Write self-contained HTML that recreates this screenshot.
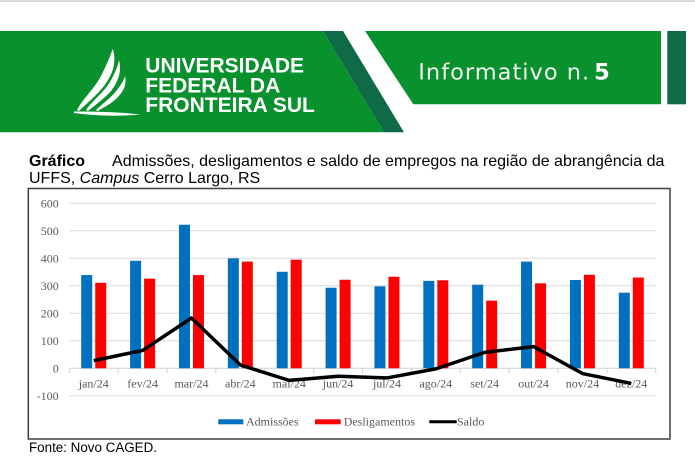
<!DOCTYPE html>
<html>
<head>
<meta charset="utf-8">
<style>
  html, body { margin:0; padding:0; background:#ffffff; }
  body { width:695px; height:470px; overflow:hidden; position:relative; }
  svg { position:absolute; left:0; top:0; }
  .title { position:absolute; left:29px; top:152.5px; width:650px; font-family:"Liberation Sans", Arial, sans-serif; font-size:16px; line-height:17.5px; color:#000; white-space:nowrap; }
  .fonte { position:absolute; left:29px; top:440px; font-family:"Liberation Sans", Arial, sans-serif; font-size:13.4px; line-height:16px; color:#000; }
</style>
</head>
<body>
<svg width="695" height="470" viewBox="0 0 695 470" xmlns="http://www.w3.org/2000/svg">
  <!-- header -->
  <rect x="0" y="0" width="695" height="2" fill="#d9d9d9"/>
  <polygon points="0,31 323,31 384,132.3 0,132.3" fill="#08912c"/>
  <polygon points="323,31 343,31 404,132.3 384,132.3" fill="#0e6a47"/>
  <polygon points="365,31 661,31 661,104.3 413.3,104.3" fill="#08912c"/>
  <rect x="667.3" y="31" width="18.7" height="73.3" fill="#0e6a47"/>
  <!-- logo flame -->
  <g fill="#ffffff">
    <path d="M77,110 C84,97 95,88 101,76 C106,66 110,57 112.7,49 C117,62 113,74 104,86 C96,96 87,103 79,111 Z"/>
    <path d="M86,110 C93,100 104,92 110,82 C115,73 118,66 119,60 C122,72 118,82 111,91 C104,99 95,105 88,111 Z"/>
    <path d="M96,110 C102,104 112,97 117,90 C121,85 124,80 125,76 C127,85 123,92 117,98 C111,104 104,107 98,111 Z"/>
    <path d="M74,111.5 Q108,111 141,114.5 Q106,117.5 74,113 Z"/>
  </g>
  <g font-family="Liberation Sans, Arial, sans-serif" font-weight="bold" font-size="21" fill="#ffffff">
    <text x="145.3" y="72.5">UNIVERSIDADE</text>
    <text x="145.3" y="92.5">FEDERAL DA</text>
    <text x="145.3" y="112">FRONTEIRA SUL</text>
  </g>
  <text x="418.3" y="79.3" font-family="DejaVu Sans, sans-serif" font-size="22.5" letter-spacing="1" fill="#eef3ee">Informativo n.<tspan font-weight="bold" fill="#ffffff" letter-spacing="0" dx="4">5</tspan></text>

  <!-- chart box -->
  <rect x="28.3" y="188.5" width="641.7" height="250.5" fill="#ffffff" stroke="#404040" stroke-width="1.5"/>

  <!-- gridlines -->
  <g stroke="#d9d9d9" stroke-width="1">
    <line x1="69.3" y1="203.3" x2="655.7" y2="203.3"/>
    <line x1="69.3" y1="230.8" x2="655.7" y2="230.8"/>
    <line x1="69.3" y1="258.3" x2="655.7" y2="258.3"/>
    <line x1="69.3" y1="285.8" x2="655.7" y2="285.8"/>
    <line x1="69.3" y1="313.3" x2="655.7" y2="313.3"/>
    <line x1="69.3" y1="340.8" x2="655.7" y2="340.8"/>
    <line x1="69.3" y1="395.8" x2="655.7" y2="395.8"/>
  </g>
  <g stroke="#d0d0d0" stroke-width="1">
    <line x1="69.3" y1="368.3" x2="655.7" y2="368.3"/>
    <line x1="69.3" y1="368.3" x2="69.3" y2="373"/>
    <line x1="118.17" y1="368.3" x2="118.17" y2="373"/>
    <line x1="167.04" y1="368.3" x2="167.04" y2="373"/>
    <line x1="215.91" y1="368.3" x2="215.91" y2="373"/>
    <line x1="264.78" y1="368.3" x2="264.78" y2="373"/>
    <line x1="313.65" y1="368.3" x2="313.65" y2="373"/>
    <line x1="362.52" y1="368.3" x2="362.52" y2="373"/>
    <line x1="411.39" y1="368.3" x2="411.39" y2="373"/>
    <line x1="460.26" y1="368.3" x2="460.26" y2="373"/>
    <line x1="509.13" y1="368.3" x2="509.13" y2="373"/>
    <line x1="558.0" y1="368.3" x2="558.0" y2="373"/>
    <line x1="606.87" y1="368.3" x2="606.87" y2="373"/>
    <line x1="655.74" y1="368.3" x2="655.74" y2="373"/>
  </g>

  <!-- y labels -->
  <g font-family="Liberation Serif, Times New Roman, serif" font-size="12" fill="#595959" text-anchor="end">
    <text x="58.7" y="207.5">600</text>
    <text x="58.7" y="235">500</text>
    <text x="58.7" y="262.5">400</text>
    <text x="58.7" y="290">300</text>
    <text x="58.7" y="317.5">200</text>
    <text x="58.7" y="345">100</text>
    <text x="58.7" y="372.5">0</text>
    <text x="58.7" y="400">-100</text>
  </g>

  <!-- bars: Admissões -->
  <g fill="#0070c0">
    <rect x="81.23" y="275.07" width="11" height="93.23"/>
    <rect x="130.10" y="260.77" width="11" height="107.53"/>
    <rect x="178.97" y="224.75" width="11" height="143.55"/>
    <rect x="227.84" y="258.3" width="11" height="110"/>
    <rect x="276.71" y="271.77" width="11" height="96.53"/>
    <rect x="325.58" y="287.72" width="11" height="80.58"/>
    <rect x="374.45" y="286.35" width="11" height="81.95"/>
    <rect x="423.32" y="280.85" width="11" height="87.45"/>
    <rect x="472.19" y="284.7" width="11" height="83.6"/>
    <rect x="521.06" y="261.6" width="11" height="106.7"/>
    <rect x="569.93" y="280.02" width="11" height="88.28"/>
    <rect x="618.80" y="292.67" width="11" height="75.63"/>
  </g>
  <!-- bars: Desligamentos -->
  <g fill="#ff0000">
    <rect x="95.23" y="282.77" width="11" height="85.53"/>
    <rect x="144.10" y="278.65" width="11" height="89.65"/>
    <rect x="192.97" y="275.07" width="11" height="93.23"/>
    <rect x="241.84" y="261.6" width="11" height="106.7"/>
    <rect x="290.71" y="259.67" width="11" height="108.63"/>
    <rect x="339.58" y="279.75" width="11" height="88.55"/>
    <rect x="388.45" y="276.72" width="11" height="91.58"/>
    <rect x="437.32" y="280.3" width="11" height="88"/>
    <rect x="486.19" y="300.65" width="11" height="67.65"/>
    <rect x="535.06" y="283.32" width="11" height="84.98"/>
    <rect x="583.93" y="274.8" width="11" height="93.5"/>
    <rect x="632.80" y="277.55" width="11" height="90.75"/>
  </g>

  <!-- x labels -->
  <g font-family="Liberation Serif, Times New Roman, serif" font-size="12" fill="#595959" text-anchor="middle">
    <text x="93.74" y="387.5">jan/24</text>
    <text x="142.61" y="387.5">fev/24</text>
    <text x="191.48" y="387.5">mar/24</text>
    <text x="240.35" y="387.5">abr/24</text>
    <text x="289.22" y="387.5">mai/24</text>
    <text x="338.09" y="387.5">jun/24</text>
    <text x="386.96" y="387.5">jul/24</text>
    <text x="435.83" y="387.5">ago/24</text>
    <text x="484.70" y="387.5">set/24</text>
    <text x="533.57" y="387.5">out/24</text>
    <text x="582.44" y="387.5">nov/24</text>
    <text x="631.31" y="387.5">dez/24</text>
  </g>

  <!-- saldo line -->
  <polyline fill="none" stroke="#000000" stroke-width="3.5" stroke-linejoin="round"
    points="93.74,360.6 142.61,350.43 191.48,317.98 240.35,365.0 289.22,380.4 338.09,376.28 386.96,377.93 435.83,368.85 484.70,352.35 533.57,346.58 582.44,373.53 631.31,383.43"/>

  <!-- legend -->
  <rect x="218.3" y="419.3" width="25" height="5" fill="#0070c0"/>
  <rect x="315" y="419.3" width="25.7" height="5" fill="#ff0000"/>
  <line x1="429.3" y1="421.8" x2="456.7" y2="421.8" stroke="#000" stroke-width="3"/>
  <g font-family="Liberation Serif, Times New Roman, serif" font-size="12" fill="#595959">
    <text x="246" y="425.5">Admissões</text>
    <text x="343.7" y="425.5">Desligamentos</text>
    <text x="457" y="425.5">Saldo</text>
  </g>
</svg>

<div class="title"><b>Gráfico</b><span style="display:inline-block;width:27px"></span>Admissões, desligamentos e saldo de empregos na região de abrangência da<br>UFFS, <i>Campus</i> Cerro Largo, RS</div>
<div class="fonte">Fonte: Novo CAGED.</div>
</body>
</html>
